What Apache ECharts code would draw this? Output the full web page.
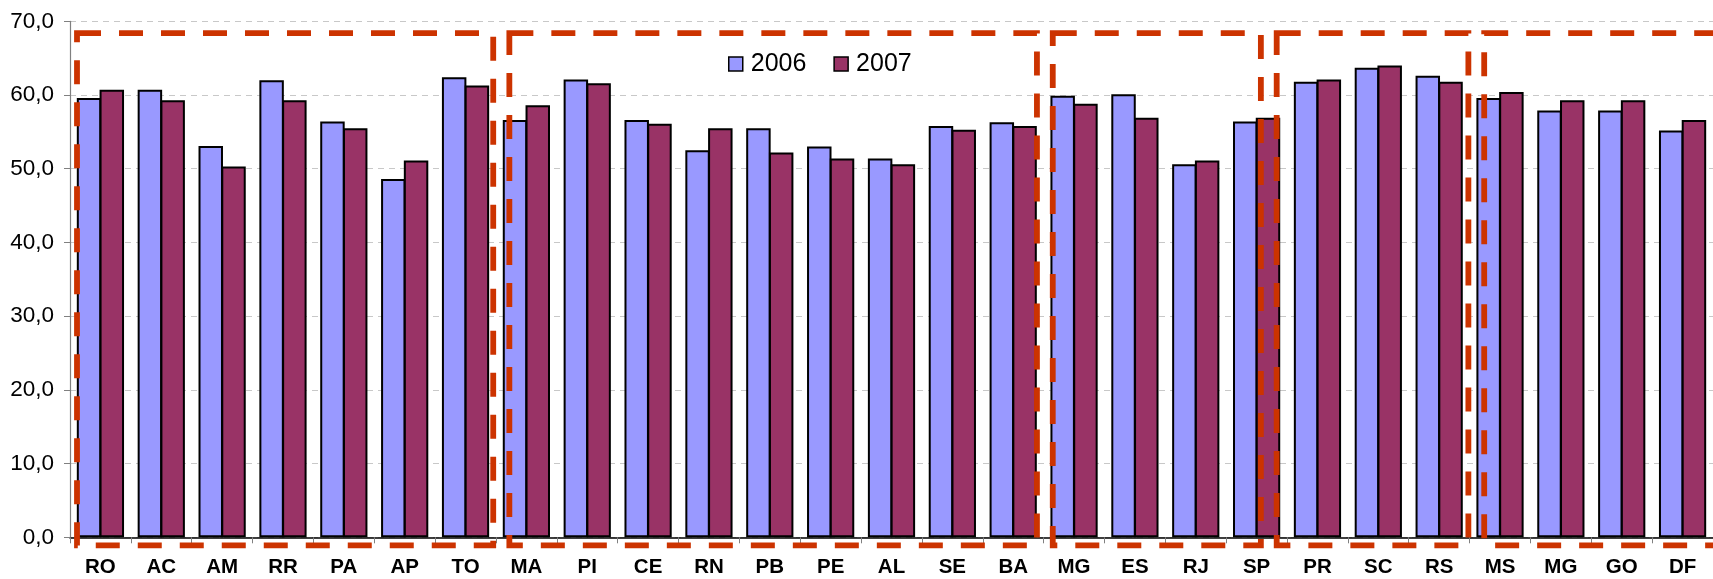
<!DOCTYPE html>
<html>
<head>
<meta charset="utf-8">
<script src="https://cdn.jsdelivr.net/npm/echarts@6/dist/echarts.min.js"></script>
<style>
html,body{margin:0;padding:0;background:#fff;}
#chart{width:1713px;height:579px;}
</style>
</head>
<body>
<div id="chart"></div>
<script>
const categories = ['RO','AC','AM','RR','PA','AP','TO','MA','PI','CE','RN','PB','PE','AL','SE','BA','MG','ES','RJ','SP','PR','SC','RS','MS','MG','GO','DF'];
const values2006 = [59.6,60.7,53.1,62.0,56.4,48.6,62.4,56.6,62.1,56.6,52.5,55.5,53.0,51.4,55.8,56.3,59.9,60.1,50.6,56.4,61.8,63.7,62.6,59.6,57.9,57.9,55.2];
const values2007 = [60.7,59.3,50.3,59.3,55.5,51.1,61.3,58.6,61.6,56.1,55.5,52.2,51.4,50.6,55.3,55.8,58.8,56.9,51.1,56.9,62.1,64.0,61.8,60.4,59.3,59.3,56.6];
const seriesNames = ['2006','2007'];
const yTickLabels = ['0,0','10,0','20,0','30,0','40,0','50,0','60,0','70,0'];
// Region boxes in category units: [start, end, top value, bottom value]
const regionBoxes = [
  [0.115, 6.955, 68.4, -1.1],
  [7.22, 15.89, 68.4, -1.1],
  [16.15, 19.57, 68.4, -1.1],
  [19.83, 22.98, 68.4, -1.1],
  [23.24, 27.6, 68.4, -1.1]
];

const chart = echarts.init(document.getElementById('chart'));
const font = 'Liberation Sans, Arial, sans-serif';
chart.setOption({
  animation: false,
  grid: {left: 70, top: 21.3, width: 1645, height: 516},
  legend: {
    data: seriesNames,
    left: 723, top: 44,
    itemWidth: 14, itemHeight: 14, itemGap: 27,
    icon: 'rect',
    itemStyle: {borderColor: '#000', borderWidth: 1.5},
    textStyle: {fontFamily: font, fontSize: 25, color: '#000', lineHeight: 30, padding: [0,0,0,3]}
  },
  xAxis: [{
    type: 'category',
    data: categories,
    axisLine: {lineStyle: {color: '#000', width: 1.5}},
    axisTick: {show: true, length: 6, lineStyle: {color: '#808080'}},
    axisLabel: {interval: 0, fontFamily: font, fontSize: 20.5, fontWeight: 'bold', color: '#000', margin: 20}
  }, {
    type: 'value', min: 0, max: 27, show: false
  }],
  yAxis: {
    type: 'value', min: 0, max: 70, interval: 10,
    axisLine: {show: true, lineStyle: {color: '#808080', width: 1.2}},
    axisTick: {show: true, length: 6, lineStyle: {color: '#808080'}},
    splitLine: {show: true, lineStyle: {color: '#c8c8c8', type: [6, 5], width: 1}},
    axisLabel: {
      fontFamily: font, fontSize: 22.5, color: '#000', margin: 16,
      formatter: (v) => yTickLabels[Math.round(v / 10)]
    }
  },
  series: [{
    name: seriesNames[0], type: 'bar', data: values2006,
    barCategoryGap: '22.4%', barGap: '-7%',
    itemStyle: {color: '#9999FF', borderColor: '#000', borderWidth: 2}
  }, {
    name: seriesNames[1], type: 'bar', data: values2007,
    barCategoryGap: '22.4%', barGap: '-7%',
    itemStyle: {color: '#993366', borderColor: '#000', borderWidth: 2}
  }, {
    type: 'custom', xAxisIndex: 1, yAxisIndex: 0, z: 10, clip: false,
    data: regionBoxes, silent: true,
    encode: {x: [0, 1], y: [2, 3]},
    renderItem: function (params, api) {
      const p0 = api.coord([api.value(0), api.value(2)]);
      const p1 = api.coord([api.value(1), api.value(3)]);
      return {
        type: 'rect',
        shape: {x: p0[0], y: p0[1], width: p1[0] - p0[0], height: p1[1] - p0[1]},
        style: {fill: null, stroke: '#CC3300', lineWidth: 5.8, lineDash: [24, 18]}
      };
    }
  }]
});
</script>
</body>
</html>
